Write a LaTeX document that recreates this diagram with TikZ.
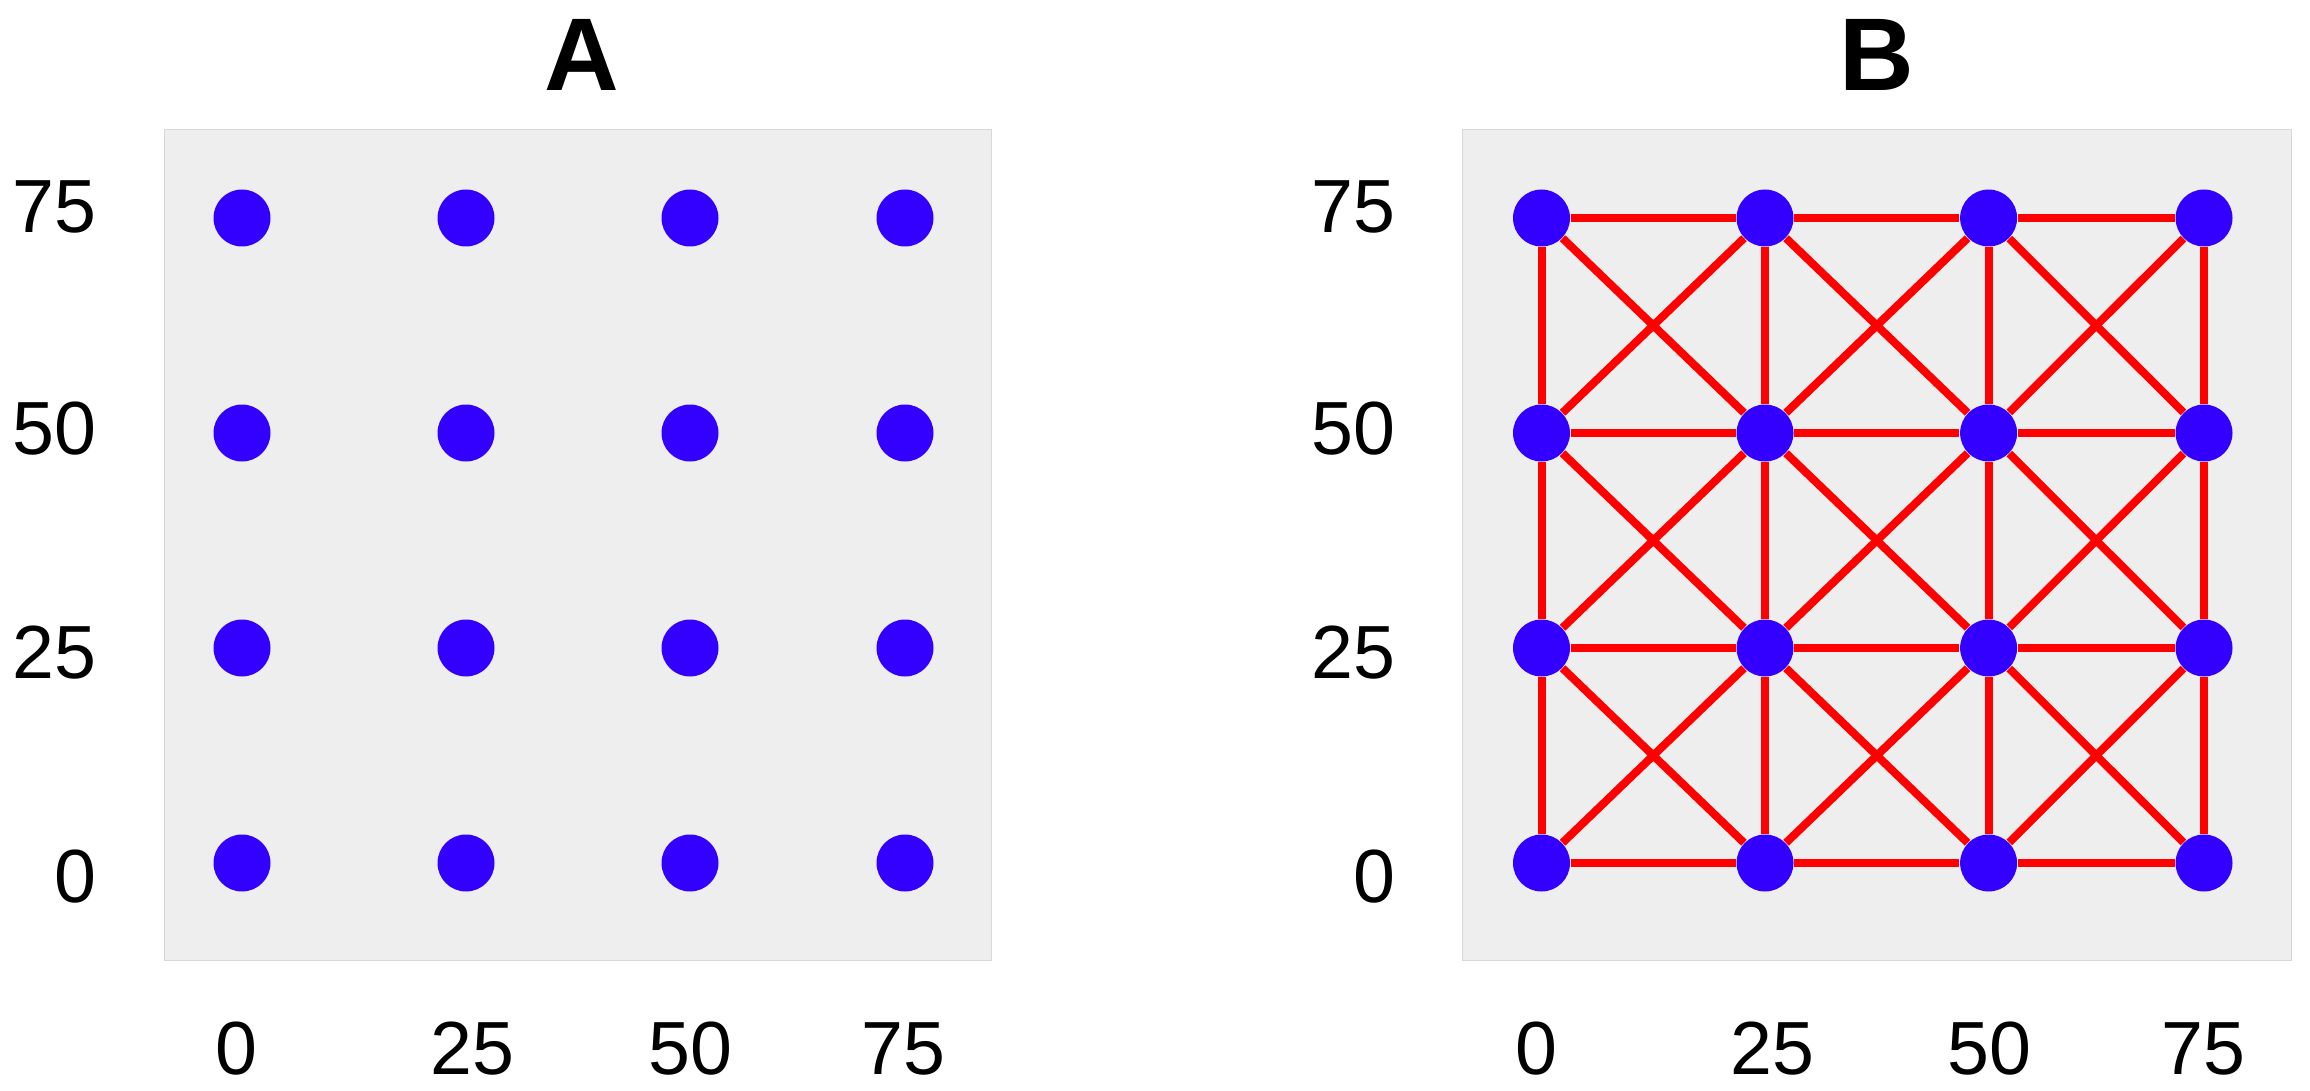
\documentclass[tikz,border=0pt]{standalone}
\usepackage{fontspec}
\setmainfont{Liberation Sans}
\pgfdeclarelayer{panel}
\pgfdeclarelayer{edges}
\pgfsetlayers{panel,edges,main}
\definecolor{dotblue}{RGB}{51,0,255}
\definecolor{panelgray}{RGB}{238,238,238}
\definecolor{panelline}{RGB}{216,216,216}
\definecolor{edgered}{RGB}{255,0,0}
\tikzset{
  x=0.3pt, y=-0.3pt,
  dot/.style={circle, fill=dotblue, draw=none, minimum size=17.1pt, inner sep=0pt},
  edge/.style={draw=edgered, line width=2.4pt},
  panelbox/.style={fill=panelgray, draw=panelline, line width=0.3pt},
  ticklab/.style={font=\fontsize{22.6pt}{26pt}\selectfont, inner sep=0pt},
  paneltitle/.style={font=\fontsize{31pt}{36pt}\selectfont\bfseries, inner sep=0pt, anchor=base}
}
\begin{document}
\begin{tikzpicture}
\useasboundingbox (0,0) rectangle (2310,1091);
\begin{pgfonlayer}{panel}
\fill[white] (0,0) rectangle (2310,1091);
\path[panelbox] (164,130) rectangle (991,960);
\path[panelbox] (1462,130) rectangle (2291,960);
\end{pgfonlayer}
% titles
\node[paneltitle] (titleA) at (582,91) {A};
\node[paneltitle] (titleB) at (1877,91) {B};
% dots
\foreach \px [count=\i from 0] in {242,466,690,905}{
  \foreach \py [count=\j from 0] in {863,648,433,218}{
    \node[dot] (A-\i-\j) at (\px,\py) {};
  }
}
\foreach \px [count=\i from 0] in {1541.5,1765,1988.6,2204}{
  \foreach \py [count=\j from 0] in {863,648,433,218}{
    \node[dot] (B-\i-\j) at (\px,\py) {};
  }
}
% edges
\begin{pgfonlayer}{edges}
\foreach \i in {0,1,2,3}{
  \foreach \j [evaluate=\j as \jj using int(\j+1)] in {0,1,2}{
    \draw[edge] (B-\i-\j) -- (B-\i-\jj);
    \draw[edge] (B-\j-\i) -- (B-\jj-\i);
  }
}
\foreach \i [evaluate=\i as \ii using int(\i+1)] in {0,1,2}{
  \foreach \j [evaluate=\j as \jj using int(\j+1)] in {0,1,2}{
    \draw[edge] (B-\i-\j) -- (B-\ii-\jj);
    \draw[edge] (B-\ii-\j) -- (B-\i-\jj);
  }
}
\end{pgfonlayer}
% y tick labels
\foreach \lab/\by in {0/902,25/678,50/454,75/232}{
  \node[ticklab, anchor=base east] (yA-\lab) at (97,\by) {\lab};
  \node[ticklab, anchor=base east] (yB-\lab) at (1396,\by) {\lab};
}
% x tick labels
\foreach \lab/\cx in {0/236.5,25/472.6,50/690.5,75/903.5}{
  \node[ticklab, anchor=base] (xA-\lab) at (\cx,1074) {\lab};
}
\foreach \lab/\cx in {0/1536,25/1772,50/1989,75/2203}{
  \node[ticklab, anchor=base] (xB-\lab) at (\cx,1074) {\lab};
}
\end{tikzpicture}
\end{document}
